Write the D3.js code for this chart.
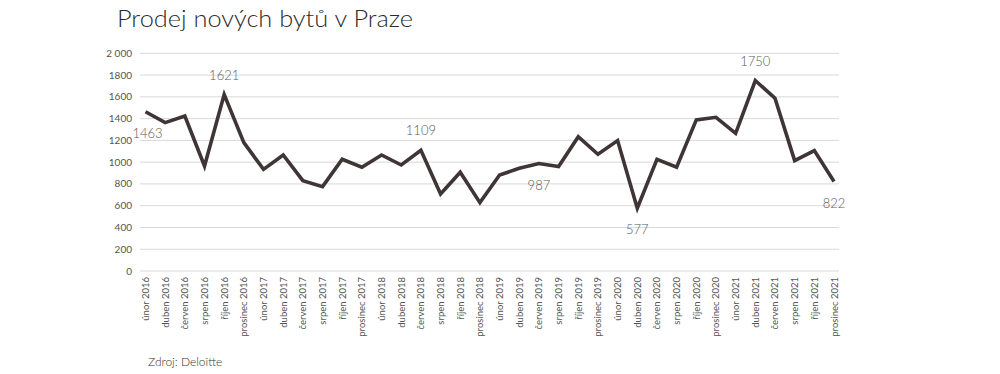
<!DOCTYPE html>
<html>
<head>
<meta charset="utf-8">
<script src="https://cdn.jsdelivr.net/npm/d3@7"></script>
<style>
  body { margin: 0; background: #fff; }
  svg { font-family: Lato, "Open Sans", sans-serif; }
</style>
</head>
<body>
<svg id="chart" width="1000" height="374"></svg>
<script>
// data
const months = ["únor", "duben", "červen", "srpen", "říjen", "prosinec"];
const years = [2016, 2017, 2018, 2019, 2020, 2021];
const categories = [];
years.forEach(y => months.forEach(m => categories.push(m + " " + y)));

const sales = [
  1463, 1363, 1424, 965, 1621, 1179,
  934, 1066, 830, 775, 1026, 953,
  1066, 974, 1109, 708, 907, 628,
  882, 943, 987, 959, 1234, 1072,
  1198, 577, 1026, 953, 1388, 1412,
  1265, 1750, 1587, 1014, 1106, 822
];
// which points get a value label, and above or below
const labelled = [
  { i: 0, pos: "below" },
  { i: 4, pos: "above" },
  { i: 14, pos: "above" },
  { i: 20, pos: "below" },
  { i: 25, pos: "below" },
  { i: 31, pos: "above" },
  { i: 35, pos: "below" }
];
const yTicks = [0, 200, 400, 600, 800, 1000, 1200, 1400, 1600, 1800, 2000];

const svg = d3.select("#chart");
const gridLeft = 140, gridRight = 839;

const x = d3.scalePoint()
  .domain(categories)
  .range([145.5, 834]);

const y = d3.scaleLinear()
  .domain([0, 2000])
  .range([271, 53.3]);

// title
svg.append("text")
  .attr("x", 117)
  .attr("y", 27)
  .attr("font-size", 23)
  .attr("font-weight", 300)
  .attr("fill", "#2b2b2b")
  .attr("textLength", 296)
  .attr("lengthAdjust", "spacingAndGlyphs")
  .text("Prodej nových bytů v Praze");

// grid lines
svg.append("g")
  .selectAll("line")
  .data(yTicks)
  .join("line")
  .attr("x1", gridLeft)
  .attr("x2", gridRight)
  .attr("y1", d => y(d))
  .attr("y2", d => y(d))
  .attr("stroke", "#d9d9d9")
  .attr("stroke-width", 1);

// y labels
svg.append("g")
  .selectAll("text")
  .data(yTicks)
  .join("text")
  .attr("x", 132)
  .attr("y", d => y(d))
  .attr("dy", "0.35em")
  .attr("text-anchor", "end")
  .attr("font-size", 10)
  .attr("fill", "#555")
  .text(d => d === 2000 ? "2 000" : d);

// x labels, rotated
svg.append("g")
  .selectAll("text")
  .data(categories)
  .join("text")
  .attr("transform", d => `translate(${x(d) + 3.5},277) rotate(-90)`)
  .attr("text-anchor", "end")
  .attr("font-size", 9.5)
  .attr("fill", "#555")
  .text(d => d);

// line
const line = d3.line()
  .x((d, i) => x(categories[i]))
  .y(d => y(d));

svg.append("path")
  .datum(sales)
  .attr("d", line)
  .attr("fill", "none")
  .attr("stroke", "#3f3537")
  .attr("stroke-width", 3.6)
  .attr("stroke-linejoin", "miter");

// value labels
svg.append("g")
  .selectAll("text")
  .data(labelled)
  .join("text")
  .attr("x", d => x(categories[d.i]) + (d.i === 0 ? 2 : 0))
  .attr("y", d => y(sales[d.i]) + (d.pos === "above" ? -15 : 26))
  .attr("text-anchor", "middle")
  .attr("font-size", 13)
  .attr("font-weight", 300)
  .attr("fill", "#5a5a5a")
  .text(d => sales[d.i]);

// source
svg.append("text")
  .attr("x", 148)
  .attr("y", 366)
  .attr("font-size", 12)
  .attr("font-weight", 300)
  .attr("fill", "#333")
  .text("Zdroj: Deloitte");
</script>
</body>
</html>
